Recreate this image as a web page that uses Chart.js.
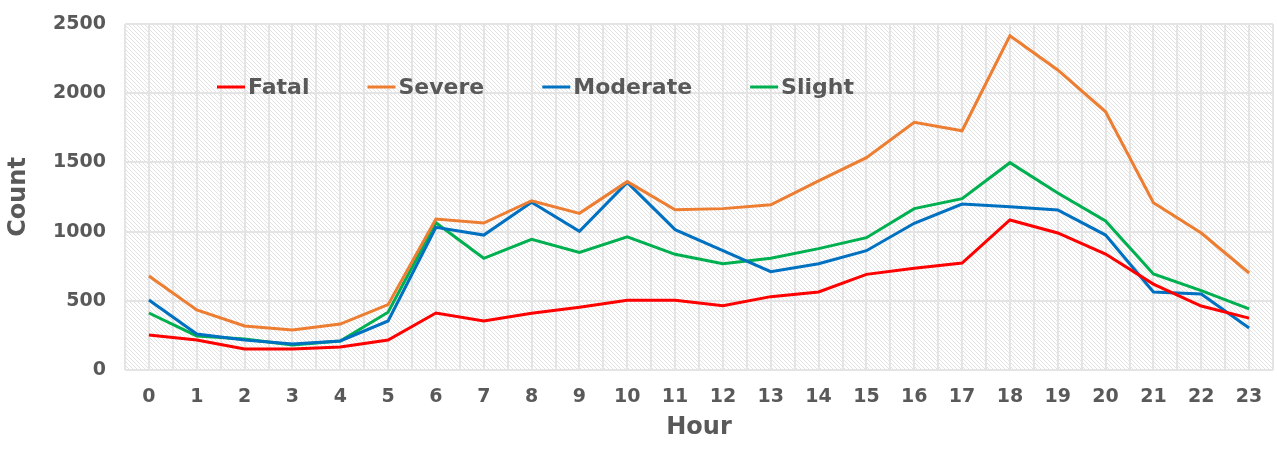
<!DOCTYPE html>
<html>
<head>
<meta charset="utf-8">
<script src="https://cdn.jsdelivr.net/npm/chart.js@4/dist/chart.umd.min.js"></script>
<style>
  html, body { margin:0; padding:0; background:#fff; }
  #wrap { width:1277px; height:450px; }
</style>
</head>
<body>
<div id="wrap"><canvas id="c" width="1277" height="450"></canvas></div>
<script>
const hours = [0,1,2,3,4,5,6,7,8,9,10,11,12,13,14,15,16,17,18,19,20,21,22,23];
const fatal    = [253,217,152,152,166,217,412,354,410,453,504,504,465,530,564,691,735,773,1084,990,838,621,462,375];
const severe   = [679,434,318,289,332,472,1091,1062,1223,1132,1361,1158,1166,1194,1366,1534,1790,1729,2415,2168,1866,1209,990,701];
const moderate = [506,260,217,188,210,354,1031,975,1212,1002,1356,1014,862,710,768,862,1060,1199,1180,1156,975,563,549,303];
const slight   = [412,246,224,181,210,417,1064,807,944,850,963,836,768,807,877,956,1166,1238,1498,1279,1077,694,573,441];
const yTicks = [0,500,1000,1500,2000,2500];

const textColor = '#595959';
const fontFam = '"DejaVu Sans", sans-serif';

function pts(arr){ return hours.map((h,i)=>({x:h, y:arr[i]})); }

// hatched plot background
function makeHatch(ctx){
    const p = document.createElement('canvas');
    p.width = 4; p.height = 4;
    const g = p.getContext('2d');
    g.fillStyle = '#ffffff';
    g.fillRect(0,0,4,4);
    g.strokeStyle = '#e2e2e2';
    g.lineWidth = 1;
    g.beginPath();
    g.moveTo(-1,-1); g.lineTo(5,5);
    g.moveTo(-1,3); g.lineTo(1,5);
    g.moveTo(3,-1); g.lineTo(5,1);
    g.stroke();
    return ctx.createPattern(p,'repeat');
}

const hatchBg = {
    id:'hatchBg',
    beforeDraw(chart){
        const {ctx, chartArea:a} = chart;
        ctx.save();
        ctx.fillStyle = makeHatch(ctx);
        ctx.fillRect(a.left, a.top, a.right-a.left, a.bottom-a.top);
        ctx.restore();
    }
};

// legend drawn inside the plot area
const innerLegend = {
    id:'innerLegend',
    afterDraw(chart){
        const ctx = chart.ctx;
        let x = 217, y = 87;
        ctx.save();
        ctx.font = 'bold 22px ' + fontFam;
        ctx.textBaseline = 'middle';
        chart.data.datasets.forEach(ds=>{
            ctx.strokeStyle = ds.borderColor;
            ctx.lineWidth = 3;
            ctx.beginPath();
            ctx.moveTo(x, y); ctx.lineTo(x+28, y);
            ctx.stroke();
            ctx.fillStyle = textColor;
            ctx.fillText(ds.label, x+31, y+1);
            x += 31 + ctx.measureText(ds.label).width + 58;
        });
        ctx.restore();
    }
};

const ds = (label, data, color) => ({
    label, data: pts(data), borderColor: color, backgroundColor: color,
    borderWidth: 3, pointRadius: 0, tension: 0, fill: false
});

new Chart(document.getElementById('c'), {
    type:'line',
    data:{ datasets:[
        ds('Fatal', fatal, '#ff0000'),
        ds('Severe', severe, '#ed7d31'),
        ds('Moderate', moderate, '#0070c0'),
        ds('Slight', slight, '#00b050')
    ]},
    options:{
        responsive:false, animation:false,
        layout:{ padding:{ top:24, right:4, left:0, bottom:0 } },
        plugins:{ legend:{display:false}, tooltip:{enabled:false} },
        scales:{
            x:{
                type:'linear', min:-0.5, max:23.5,
                afterFit(s){ s.height = 80; s.paddingLeft = 0; s.paddingRight = 0; },
                afterBuildTicks(s){
                    const t = [];
                    for(let v=-0.5; v<=23.5; v+=0.5) t.push({value:v});
                    s.ticks = t;
                },
                ticks:{
                    autoSkip:false, maxRotation:0, padding:16,
                    color:textColor, font:{family:fontFam, size:19, weight:'bold'},
                    callback(v){ return Number.isInteger(v) && hours.includes(v) ? String(v) : ''; }
                },
                grid:{ color:'#e4e4e4', lineWidth:2, drawTicks:false },
                border:{ display:false },
                title:{ display:true, text:'Hour', color:textColor,
                        font:{family:fontFam, size:24, weight:'bold'}, padding:{top:4, bottom:8} }
            },
            y:{
                min:0, max:2500,
                afterFit(s){ s.width = 125; s.paddingTop = 0; s.paddingBottom = 0; },
                afterBuildTicks(s){ s.ticks = yTicks.map(v=>({value:v})); },
                ticks:{
                    padding:19, color:textColor,
                    font:{family:fontFam, size:19, weight:'bold'},
                    callback(v){ return String(v); }
                },
                grid:{ color:'#e4e4e4', lineWidth:2, drawTicks:false },
                border:{ display:false },
                title:{ display:true, text:'Count', color:textColor,
                        font:{family:fontFam, size:24, weight:'bold'}, padding:{top:4, bottom:4} }
            }
        }
    },
    plugins:[hatchBg, innerLegend]
});
</script>
</body>
</html>
